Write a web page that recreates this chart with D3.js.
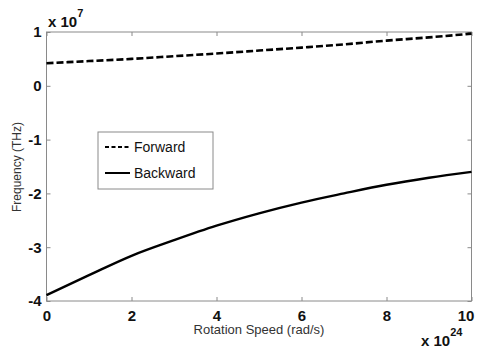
<!DOCTYPE html>
<html>
<head>
<meta charset="utf-8">
<script src="https://cdn.jsdelivr.net/npm/d3@7"></script>
<style>
  body { margin: 0; background: #fff; }
  text { font-family: "Liberation Sans", Arial, sans-serif; }
</style>
</head>
<body>
<svg id="chart"></svg>
<script>
// rotation speed, in units of 1e24 rad/s
var speed = [0, 1, 2, 3, 4, 5, 6, 7, 8, 9, 10];
// frequencies, in units of 1e7 THz
var forward = [0.42, 0.46, 0.50, 0.55, 0.60, 0.655, 0.71, 0.77, 0.84, 0.90, 0.97];
var backward = [-3.89, -3.52, -3.16, -2.87, -2.60, -2.37, -2.17, -2.00, -1.84, -1.71, -1.60];
var xTicks = [0, 2, 4, 6, 8, 10];
var yTicks = [1, 0, -1, -2, -3, -4];

var W = 477, H = 348;
var margin = {top: 32, right: 5.5, bottom: 47, left: 46.5},
    width = W - margin.left - margin.right,
    height = H - margin.top - margin.bottom;

var svg = d3.select("#chart").attr("width", W).attr("height", H);
var g = svg.append("g")
    .attr("transform", "translate(" + margin.left + "," + margin.top + ")");

var x = d3.scaleLinear().domain([0, 10]).range([0, width]);
var y = d3.scaleLinear().domain([-4, 1]).range([height, 0]);

var axisColor = "#8a8a8a";
var fmt = function(d) { return String(d); };   // plain hyphen for negatives

// frame
g.append("rect")
    .attr("width", width).attr("height", height)
    .attr("fill", "none").attr("stroke", axisColor).attr("stroke-width", 1);

function styleAxis(sel, showLabels) {
  sel.select(".domain").remove();
  sel.selectAll(".tick line").attr("stroke", axisColor);
  if (!showLabels) sel.selectAll(".tick text").remove();
  else sel.selectAll(".tick text")
      .attr("fill", "#111")
      .style("font-size", "15px")
      .style("font-weight", "bold");
}

// bottom / left axes with inward ticks
var xAx = g.append("g").attr("transform", "translate(0," + height + ")")
    .call(d3.axisBottom(x).tickValues(xTicks).tickSizeInner(-4).tickPadding(9).tickFormat(fmt))
    .call(styleAxis, true);
// last label pulled in so it stays inside the window
xAx.selectAll(".tick text").filter(function(d) { return d === 10; }).attr("dx", -6);

g.append("g")
    .call(d3.axisLeft(y).tickValues(yTicks).tickSizeInner(-4).tickPadding(5).tickFormat(fmt))
    .call(styleAxis, true);
// top / right mirrors
g.append("g")
    .call(d3.axisTop(x).tickValues(xTicks).tickSizeInner(-4))
    .call(styleAxis, false);
g.append("g").attr("transform", "translate(" + width + ",0)")
    .call(d3.axisRight(y).tickValues(yTicks).tickSizeInner(-4))
    .call(styleAxis, false);

// lines
var line = function(vals) {
  return d3.line()
      .x(function(d, i) { return x(speed[i]); })
      .y(function(d) { return y(d); })
      .curve(d3.curveMonotoneX)(vals);
};

g.append("path")
    .attr("d", line(forward))
    .attr("fill", "none").attr("stroke", "#000")
    .attr("stroke-width", 2.6).attr("stroke-dasharray", "7,3");

g.append("path")
    .attr("d", line(backward))
    .attr("fill", "none").attr("stroke", "#000")
    .attr("stroke-width", 2.4);

// exponent labels
var e1 = svg.append("text").attr("x", 48).attr("y", 27)
    .style("font-size", "15px").style("font-weight", "bold").attr("fill", "#111");
e1.append("tspan").text("x 10");
e1.append("tspan").attr("dy", -10).style("font-size", "11px").text("7");

var e2 = svg.append("text").attr("x", 421).attr("y", 346)
    .style("font-size", "15px").style("font-weight", "bold").attr("fill", "#111");
e2.append("tspan").text("x 10");
e2.append("tspan").attr("dy", -10).style("font-size", "11px").text("24");

// axis titles
svg.append("text")
    .attr("x", margin.left + x(5)).attr("y", 334)
    .attr("text-anchor", "middle")
    .style("font-size", "13px").attr("fill", "#333")
    .text("Rotation Speed (rad/s)");

svg.append("text")
    .attr("transform", "translate(21," + 167 + ") rotate(-90)")
    .attr("text-anchor", "middle")
    .style("font-size", "12px").attr("fill", "#333")
    .text("Frequency (THz)");

// legend
var legend = svg.append("g").attr("transform", "translate(98,132)");
legend.append("rect")
    .attr("width", 115).attr("height", 57)
    .attr("fill", "#fff").attr("stroke", axisColor);
var items = [
  {name: "Forward", dash: "4,2.5", yy: 15},
  {name: "Backward", dash: null, yy: 41}
];
items.forEach(function(it) {
  legend.append("line")
      .attr("x1", 7).attr("x2", 32).attr("y1", it.yy).attr("y2", it.yy)
      .attr("stroke", "#000").attr("stroke-width", 2)
      .attr("stroke-dasharray", it.dash);
  legend.append("text")
      .attr("x", 36).attr("y", it.yy).attr("dy", "0.35em")
      .style("font-size", "14px").attr("fill", "#111")
      .text(it.name);
});
</script>
</body>
</html>
